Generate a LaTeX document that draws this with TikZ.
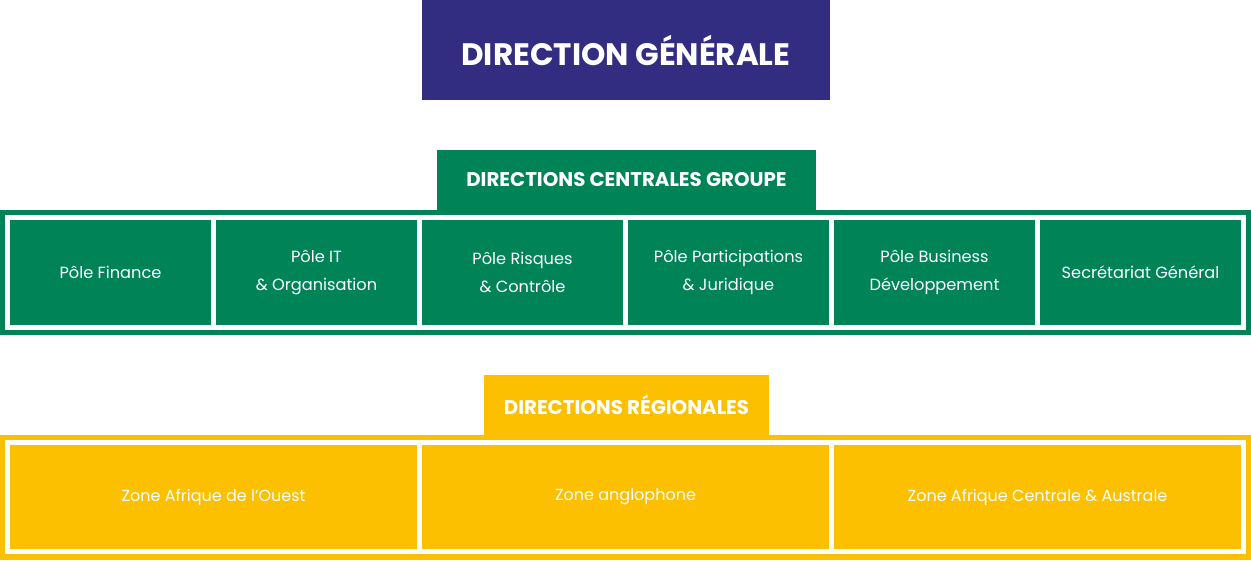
\documentclass[tikz,border=0pt]{standalone}
\usepackage{fontspec}
\setmainfont{Poppins}
\definecolor{dgpurple}{HTML}{332D82}
\definecolor{dcgreen}{HTML}{008457}
\definecolor{dryellow}{HTML}{FDC000}
\begin{document}
\begin{tikzpicture}[x=1pt,y=-1pt,
  blk/.style={inner sep=0pt,outer sep=0pt,anchor=north west,text=white,align=center},
  pole/.style={blk,fill=dcgreen,minimum width=201pt,minimum height=105pt,font=\fontsize{16.2}{28}\selectfont},
  zone/.style={blk,fill=dryellow,minimum width=407pt,minimum height=104pt,font=\fontsize{16}{28}\selectfont},
  band/.style={blk,minimum width=1251pt,minimum height=125pt},
  inner/.style={blk,fill=white,minimum width=1241pt,minimum height=115pt},
  headtxt/.style={font=\fontsize{19.8}{24}\selectfont\bfseries}]
\useasboundingbox (0,0) rectangle (1251,560);
\fill[white] (0,0) rectangle (1251,560);
% Direction generale
\node[blk,fill=dgpurple,minimum width=408pt,minimum height=100pt,font=\fontsize{31}{36}\selectfont\bfseries] (dg) at (422,0) {DIRECTION GÉNÉRALE};
% Directions centrales
\node[blk,fill=dcgreen,minimum width=379pt,minimum height=60pt,headtxt] (dch) at (437,150) {DIRECTIONS CENTRALES GROUPE};
\node[band,fill=dcgreen] (dcband) at (0,210) {};
\node[inner] (dcinner) at (5,215) {};
\node[pole] (p1) at (10,220) {Pôle Finance};
\node[pole] (p2) at (216,220) {Pôle IT\\\& Organisation};
\node[pole] (p3) at (422,220) {Pôle Risques\\\& Contrôle};
\node[pole] (p4) at (628,220) {Pôle Participations\\\& Juridique};
\node[pole] (p5) at (834,220) {Pôle Business\\Développement};
\node[pole] (p6) at (1040,220) {Secrétariat Général};
% Directions regionales
\node[blk,fill=dryellow,minimum width=285pt,minimum height=60pt,headtxt] (drh) at (484,375) {DIRECTIONS RÉGIONALES};
\node[band,fill=dryellow] (drband) at (0,435) {};
\node[inner,minimum height=114pt] (drinner) at (5,440) {};
\node[zone] (z1) at (10,445) {Zone Afrique de l’Ouest};
\node[zone] (z2) at (422,445) {Zone anglophone};
\node[zone] (z3) at (834,445) {Zone Afrique Centrale \& Australe};
\end{tikzpicture}
\end{document}
